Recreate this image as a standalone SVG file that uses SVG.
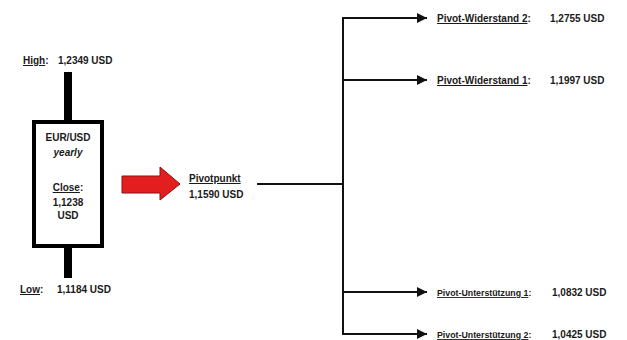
<svg xmlns="http://www.w3.org/2000/svg" width="627" height="340" viewBox="0 0 627 340">
<style>
text{font-family:"Liberation Sans",Arial,sans-serif;font-size:10px;fill:#1a1a1a;font-weight:bold}
.u{text-decoration:underline}
.c{text-anchor:middle}
.sm{font-size:8.8px}
.ln{stroke:#111;stroke-width:2;fill:none}
</style>
<defs>
<marker id="ah" viewBox="0 0 10 10" refX="10" refY="5" markerWidth="5" markerHeight="5" orient="auto" markerUnits="strokeWidth">
<path d="M0,0 L10,5 L0,10 z" fill="#111"/>
</marker>
</defs>
<rect width="627" height="340" fill="#fff"/>
<g id="candle">
<rect x="64" y="72" width="8" height="50" fill="#000"/>
<rect x="64" y="246" width="8" height="32" fill="#000"/>
<rect x="34" y="122" width="68" height="124" fill="#fff" stroke="#000" stroke-width="4"/>
<text class="c" x="68" y="141">EUR/USD</text>
<text class="c" x="68" y="156" font-style="italic" font-weight="normal">yearly</text>
<text class="c" x="68" y="191"><tspan class="u">Close</tspan>:</text>
<text class="c" x="68" y="206">1,1238</text>
<text class="c" x="68" y="219">USD</text>
</g>
<g id="high"><text x="23" y="64"><tspan class="u">High</tspan>:</text><text x="58" y="64">1,2349 USD</text></g>
<g id="low"><text x="20" y="293"><tspan class="u">Low</tspan>:</text><text x="57" y="293">1,1184 USD</text></g>
<g id="redarrow">
<path d="M122,176 L160,176 L160,167 L180,184 L160,200 L160,193 L122,193 Z" fill="#e31e1e" stroke="#8b1010" stroke-width="1"/>
</g>
<g id="pivot">
<text x="189" y="182" class="u">Pivotpunkt</text>
<text x="189" y="198">1,1590 USD</text>
</g>
<g id="connectors">
<line class="ln" x1="257" y1="184" x2="343" y2="184"/>
<line class="ln" x1="343" y1="18" x2="343" y2="335"/>
<line class="ln" x1="342" y1="18" x2="427" y2="18" marker-end="url(#ah)"/>
<line class="ln" x1="342" y1="80" x2="427" y2="80" marker-end="url(#ah)"/>
<line class="ln" x1="342" y1="292" x2="427" y2="292" marker-end="url(#ah)"/>
<line class="ln" x1="342" y1="334" x2="427" y2="334" marker-end="url(#ah)"/>
</g>
<g id="r2"><text x="437" y="22"><tspan class="u">Pivot-Widerstand 2</tspan>:</text><text x="550" y="22">1,2755 USD</text></g>
<g id="r1"><text x="437" y="84"><tspan class="u">Pivot-Widerstand 1</tspan>:</text><text x="550" y="84">1,1997 USD</text></g>
<g id="s1"><text class="sm" x="437" y="296"><tspan class="u">Pivot-Unterstützung 1</tspan>:</text><text x="552" y="296">1,0832 USD</text></g>
<g id="s2"><text class="sm" x="437" y="338"><tspan class="u">Pivot-Unterstützung 2</tspan>:</text><text x="552" y="338">1,0425 USD</text></g>
</svg>
